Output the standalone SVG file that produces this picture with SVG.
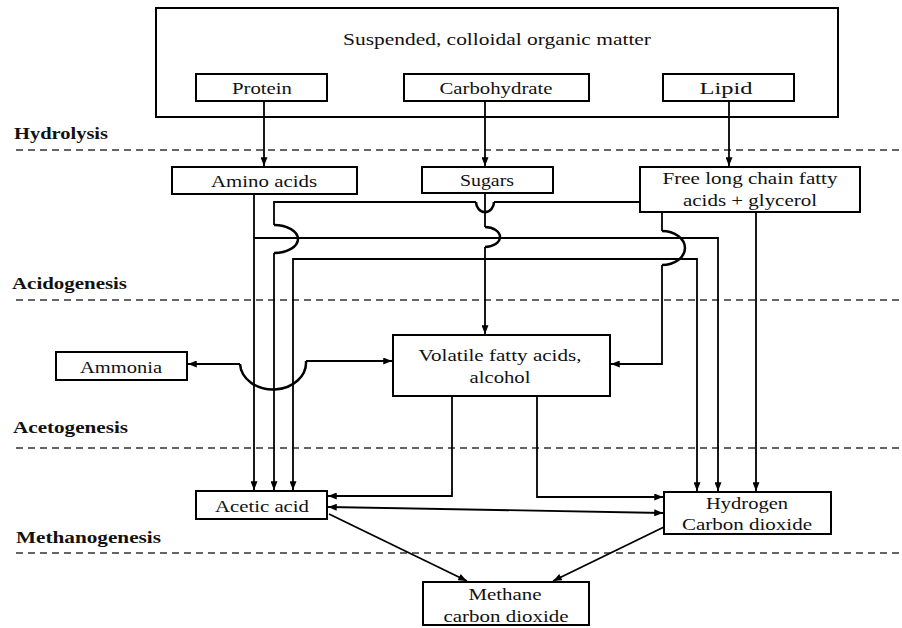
<svg xmlns="http://www.w3.org/2000/svg" width="902" height="628" viewBox="0 0 902 628">
<style>
  .box { fill: #fff; stroke: #000; stroke-width: 2; }
  .t { font-family: "Liberation Serif", "Times New Roman", serif; font-size: 17px; fill: #111; text-anchor: middle; }
  .lbl { font-family: "Liberation Serif", "Times New Roman", serif; font-size: 17px; font-weight: bold; fill: #111; }
  .dash { stroke: #333; stroke-width: 1.3; stroke-dasharray: 7 5; fill: none; }
  .c { fill: none; stroke: #000; stroke-width: 1.8; }
  .hop { fill: none; stroke: #000; stroke-width: 2.5; }
  .a { marker-end: url(#arr); }
</style>
<defs>
  <marker id="arr" viewBox="0 0 10 8" refX="10" refY="4" markerWidth="9" markerHeight="7" markerUnits="userSpaceOnUse" orient="auto-start-reverse">
    <path d="M0,0 L10,4 L0,8 z" fill="#000"/>
  </marker>
</defs>
<rect width="902" height="628" fill="#fff"/>

<g id="stages">
  <line class="dash" x1="16" y1="150" x2="902" y2="150"/>
  <line class="dash" x1="16" y1="300" x2="902" y2="300"/>
  <line class="dash" x1="16" y1="448" x2="902" y2="448"/>
  <line class="dash" x1="16" y1="553" x2="902" y2="553"/>
  <text class="lbl" x="14" y="139" textLength="94" lengthAdjust="spacingAndGlyphs">Hydrolysis</text>
  <text class="lbl" x="12" y="289" textLength="115" lengthAdjust="spacingAndGlyphs">Acidogenesis</text>
  <text class="lbl" x="13" y="433" textLength="115" lengthAdjust="spacingAndGlyphs">Acetogenesis</text>
  <text class="lbl" x="16" y="543" textLength="145" lengthAdjust="spacingAndGlyphs">Methanogenesis</text>
</g>

<g id="organic-matter">
  <rect class="box" x="156" y="8" width="682" height="109"/>
  <text class="t" x="497" y="45" textLength="308" lengthAdjust="spacingAndGlyphs">Suspended, colloidal organic matter</text>
</g>
<g id="protein">
  <rect class="box" x="196" y="74" width="131" height="27"/>
  <text class="t" x="262" y="94" textLength="60" lengthAdjust="spacingAndGlyphs">Protein</text>
</g>
<g id="carbohydrate">
  <rect class="box" x="404" y="74" width="185" height="27"/>
  <text class="t" x="496" y="94" textLength="113" lengthAdjust="spacingAndGlyphs">Carbohydrate</text>
</g>
<g id="lipid">
  <rect class="box" x="663" y="74" width="131" height="27"/>
  <text class="t" x="726" y="94" textLength="53" lengthAdjust="spacingAndGlyphs">Lipid</text>
</g>
<g id="amino-acids">
  <rect class="box" x="172" y="167" width="185" height="27"/>
  <text class="t" x="264" y="187" textLength="106" lengthAdjust="spacingAndGlyphs">Amino acids</text>
</g>
<g id="sugars">
  <rect class="box" x="422" y="167" width="131" height="26"/>
  <text class="t" x="487" y="186" textLength="54" lengthAdjust="spacingAndGlyphs">Sugars</text>
</g>
<g id="lcfa">
  <rect class="box" x="640" y="167" width="220" height="45"/>
  <text class="t" x="750" y="184" textLength="175" lengthAdjust="spacingAndGlyphs">Free long chain fatty</text>
  <text class="t" x="750" y="206" textLength="134" lengthAdjust="spacingAndGlyphs">acids + glycerol</text>
</g>
<g id="ammonia">
  <rect class="box" x="56" y="352" width="131" height="28"/>
  <text class="t" x="121" y="373" textLength="82" lengthAdjust="spacingAndGlyphs">Ammonia</text>
</g>
<g id="vfa">
  <rect class="box" x="393" y="335" width="217" height="61"/>
  <text class="t" x="500" y="361" textLength="163" lengthAdjust="spacingAndGlyphs">Volatile fatty acids,</text>
  <text class="t" x="500" y="383" textLength="61" lengthAdjust="spacingAndGlyphs">alcohol</text>
</g>
<g id="acetic-acid">
  <rect class="box" x="196" y="491" width="131" height="28"/>
  <text class="t" x="262" y="512" textLength="94" lengthAdjust="spacingAndGlyphs">Acetic acid</text>
</g>
<g id="hydrogen">
  <rect class="box" x="664" y="492" width="167" height="42"/>
  <text class="t" x="747" y="509" textLength="82" lengthAdjust="spacingAndGlyphs">Hydrogen</text>
  <text class="t" x="747" y="530" textLength="130" lengthAdjust="spacingAndGlyphs">Carbon dioxide</text>
</g>
<g id="methane">
  <rect class="box" x="423" y="582" width="166" height="43"/>
  <text class="t" x="505" y="600" textLength="73" lengthAdjust="spacingAndGlyphs">Methane</text>
  <text class="t" x="506" y="622" textLength="125" lengthAdjust="spacingAndGlyphs">carbon dioxide</text>
</g>

<g id="connectors">
  <path class="c a" d="M264,101 V166"/>
  <path class="c a" d="M485,101 V166"/>
  <path class="c a" d="M729,101 V166"/>
  <!-- amino acids -->
  <path class="c a" d="M254,194 V490"/>
  <path class="c a" d="M254,238 H718 V491"/>
  <!-- LCFA to acetic acid with hops -->
  <path class="c" d="M640,202 H494"/>
  <path class="hop" d="M494,202 A9,10 0 0 1 476,202"/>
  <path class="c" d="M476,202 H274 V225"/>
  <path class="hop" d="M274,225 A24,14 0 0 1 274,253"/>
  <path class="c a" d="M274,253 V490"/>
  <!-- sugars -->
  <path class="c" d="M485,193 V227"/>
  <path class="hop" d="M485,227 A15,10 0 0 1 485,247"/>
  <path class="c a" d="M485,247 V334"/>
  <path class="c a" d="M485,259 H293 V490"/>
  <path class="c a" d="M485,259 H697 V491"/>
  <!-- LCFA to VFA and hydrogen -->
  <path class="c" d="M662,212 V231"/>
  <path class="hop" d="M662,231 A23,17 0 0 1 662,265"/>
  <path class="c a" d="M662,265 V364 H611"/>
  <path class="c a" d="M756,212 V491"/>
  <!-- ammonia / VFA -->
  <path class="hop" d="M240,364 A33,27 0 0 0 306,361"/>
  <path class="c a" d="M240,364 H188"/>
  <path class="c a" d="M306,361 H392"/>
  <!-- VFA outputs -->
  <path class="c a" d="M452,396 V496 H328"/>
  <path class="c a" d="M537,396 V497 H663"/>
  <!-- acetogenesis / methanogenesis -->
  <path class="c a" d="M328,507 L663,513" marker-start="url(#arr)"/>
  <path class="c a" d="M329,514 L467,581"/>
  <path class="c a" d="M664,527 L553,581"/>
</g>
</svg>
